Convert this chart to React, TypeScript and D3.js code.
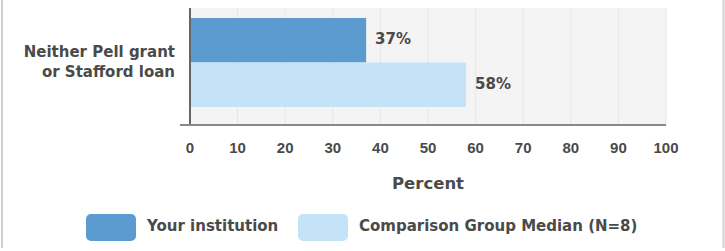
import React from "react";
import * as d3 from "d3";

const categories = ["Neither Pell grant|or Stafford loan"];
const seriesNames = ["Your institution", "Comparison Group Median (N=8)"];
const seriesColors = ["#5b9bd0", "#c5e3f7"];
const yourInstitution = [37];
const comparisonMedian = [58];
const xTicks = [0, 10, 20, 30, 40, 50, 60, 70, 80, 90, 100];

const W = 725;
const H = 251;
const plotLeft = 190;
const plotRight = 666;
const plotTop = 8;
const plotBottom = 125;
const textColor = "#4a4a4a";
const font = "'DejaVu Sans', Verdana, sans-serif";
const tickFont = "'Liberation Sans', Arial, sans-serif";

export default function App() {
  const x = d3.scaleLinear().domain([0, 100]).range([plotLeft, plotRight]);
  const y = d3.scaleBand().domain(categories).range([plotTop, plotBottom - 8]).paddingInner(0).paddingOuter(0.112);
  const inner = d3.scaleBand().domain(["0", "1"]).range([0, y.bandwidth()]);
  const series = [yourInstitution, comparisonMedian];

  return (
    <svg width={W} height={H} style={{ position: "absolute", left: 0, top: 0, fontFamily: font }}>
      <rect x={0} y={0} width={W} height={H} fill="#fff" />
      <line x1={2} x2={2} y1={0} y2={248} stroke="#d0d0d0" strokeWidth={2} />
      <line x1={723.5} x2={723.5} y1={0} y2={248} stroke="#d0d0d0" strokeWidth={2} />
      <rect x={plotLeft} y={plotTop} width={plotRight - plotLeft} height={plotBottom - plotTop} fill="#f4f4f4" />
      {xTicks.map((t) => (
        <line key={"g" + t} x1={x(t)} x2={x(t)} y1={plotTop} y2={plotBottom} stroke="#e2e7f0" strokeWidth={1} />
      ))}
      {categories.map((c, ci) =>
        series.map((s, si) => {
          const y0 = (y(c) as number) + (inner(String(si)) as number);
          const bh = inner.bandwidth();
          return (
            <g key={c + si}>
              <rect x={x(0)} y={y0} width={x(s[ci]) - x(0)} height={bh} fill={seriesColors[si]} />
              <text x={x(s[ci]) + 9} y={y0 + bh / 2 - 1} dy="0.35em" fontSize={15} fontWeight="bold" fill={textColor}>
                {s[ci]}%
              </text>
            </g>
          );
        })
      )}
      {categories.map((c) => {
        const lines = c.split("|");
        const cy = (y(c) as number) + y.bandwidth() / 2;
        return (
          <text key={c} x={175} y={cy} textAnchor="end" fontSize={15} fontWeight="bold" fill={textColor}>
            {lines.map((l, i) => (
              <tspan key={i} x={175} y={cy - 11 + i * 20} dy="0.35em">
                {l}
              </tspan>
            ))}
          </text>
        );
      })}
      <line x1={plotLeft} x2={plotLeft} y1={plotTop} y2={plotBottom} stroke="#666" strokeWidth={2} />
      <line x1={180} x2={plotRight} y1={plotBottom} y2={plotBottom} stroke="#888" strokeWidth={2} />
      {xTicks.map((t) => (
        <text key={"t" + t} x={x(t)} y={147.5} dy="0.35em" textAnchor="middle" fontSize={15} fontWeight="bold" fill={textColor} fontFamily={tickFont}>
          {t}
        </text>
      ))}
      <text x={428} y={183} dy="0.35em" textAnchor="middle" fontSize={16.5} fontWeight="bold" fill={textColor}>
        Percent
      </text>
      {seriesNames.map((n, i) => {
        const sx = [86, 298][i];
        return (
          <g key={n}>
            <rect x={sx} y={214} width={50} height={27} rx={5} fill={seriesColors[i]} />
            <text x={sx + 61} y={226} dy="0.35em" fontSize={15} fontWeight="bold" fill={textColor}>
              {n}
            </text>
          </g>
        );
      })}
    </svg>
  );
}
